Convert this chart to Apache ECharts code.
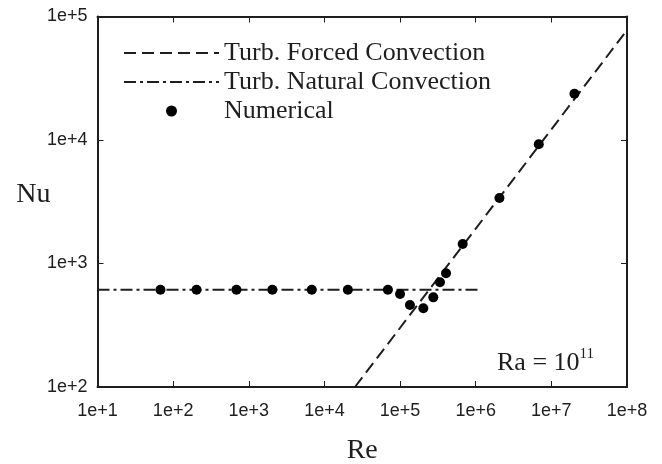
<!DOCTYPE html>
<html><head><meta charset="utf-8">
<script src="https://cdn.jsdelivr.net/npm/echarts@6/dist/echarts.min.js"></script>
<style>html,body{margin:0;padding:0;background:#fff}#c{width:662px;height:464px}</style>
</head><body><div id="c"></div>
<script>
// Numerical results
const reNum = [68, 204, 687, 2050, 6800, 20400, 69000, 100000, 135000, 203000, 275000, 337000, 405000, 673000, 2060000, 6820000, 20200000];
const nuNum = [612, 612, 612, 612, 612, 612, 612, 566, 461, 434, 532, 705, 834, 1439, 3390, 9230, 23650];
// Turbulent forced convection correlation (end points)
const reForced = [25350, 100000000];
const nuForced = [100, 77500];
// Turbulent natural convection correlation (end points)
const reNatural = [10, 1100000];
const nuNatural = [612, 612];
const xTicks = ['1e+1','1e+2','1e+3','1e+4','1e+5','1e+6','1e+7','1e+8'];
const yTicks = ['1e+2','1e+3','1e+4','1e+5'];
const seriesNames = ['Turb. Forced Convection', 'Turb. Natural Convection', 'Numerical'];

const zip = (a, b) => a.map((v, i) => [v, b[i]]);
const fmt = v => '1e+' + Math.round(Math.log10(v));
const ink = '#1e1e1e';
const clear = 'rgba(0,0,0,0)';
const chart = echarts.init(document.getElementById('c'));
const axisBase = {
  type: 'log', logBase: 10,
  axisLine: { show: true, lineStyle: { color: ink, width: 2 } },
  axisTick: { show: true, inside: true, length: 6, lineStyle: { color: ink, width: 1 } },
  minorTick: { show: false }, splitLine: { show: false }
};
chart.setOption({
  animation: false,
  backgroundColor: '#fff',
  grid: { left: 97.5, right: 35, top: 16.5, bottom: 77, containLabel: false, outerBoundsMode: 'none' },
  legend: {
    left: 123, top: 40, orient: 'vertical', padding: 0,
    itemWidth: 95, itemHeight: 11, itemGap: 3,
    data: [
      { name: seriesNames[0], itemStyle: { color: clear, borderColor: clear, borderWidth: 0 } },
      { name: seriesNames[1], itemStyle: { color: clear, borderColor: clear, borderWidth: 0 } },
      { name: seriesNames[2] }
    ],
    textStyle: { fontFamily: 'Liberation Serif', fontSize: 26, color: ink }
  },
  xAxis: [
    Object.assign({}, axisBase, {
      min: 10, max: 1e8, position: 'bottom',
      name: 'Re', nameLocation: 'middle', nameGap: 50, nameMoveOverlap: false,
      nameTextStyle: { fontFamily: 'Liberation Serif', fontSize: 28, color: ink },
      axisLabel: { formatter: fmt, margin: 15, fontFamily: 'Liberation Sans', fontSize: 18, color: ink }
    }),
    Object.assign({}, axisBase, { min: 10, max: 1e8, position: 'top', axisLabel: { show: false } })
  ],
  yAxis: [
    Object.assign({}, axisBase, {
      min: 100, max: 1e5, position: 'left',
      name: 'Nu', nameLocation: 'middle', nameGap: 47, nameRotate: 0, nameMoveOverlap: false,
      nameTextStyle: { fontFamily: 'Liberation Serif', fontSize: 28, color: ink, verticalAlign: 'bottom', lineHeight: 14 },
      axisLabel: { formatter: fmt, margin: 10, fontFamily: 'Liberation Sans', fontSize: 18, color: ink }
    }),
    Object.assign({}, axisBase, { min: 100, max: 1e5, position: 'right', axisLabel: { show: false } })
  ],
  series: [
    { name: seriesNames[0], type: 'line', data: zip(reForced, nuForced), symbol: 'none', silent: true,
      lineStyle: { color: ink, width: 2, type: [12, 6] }, itemStyle: { color: ink }, z: 2 },
    { name: seriesNames[1], type: 'line', data: zip(reNatural, nuNatural), symbol: 'none', silent: true,
      lineStyle: { color: ink, width: 2, type: [12, 4, 3, 4] }, itemStyle: { color: ink }, z: 2 },
    { name: seriesNames[2], type: 'scatter', data: zip(reNum, nuNum), symbol: 'circle', symbolSize: 10,
      itemStyle: { color: '#000', opacity: 1 }, z: 3 }
  ],
  graphic: [{
    type: 'text', left: 497, top: 347,
    style: {
      text: '{b|Ra = 10}{s|11}',
      rich: {
        b: { fontFamily: 'Liberation Serif', fontSize: 26, fill: ink, verticalAlign: 'bottom' },
        s: { fontFamily: 'Liberation Serif', fontSize: 15, fill: ink, verticalAlign: 'top', padding: [0,0,14,0] }
      }
    }
  }]
});
</script></body></html>
